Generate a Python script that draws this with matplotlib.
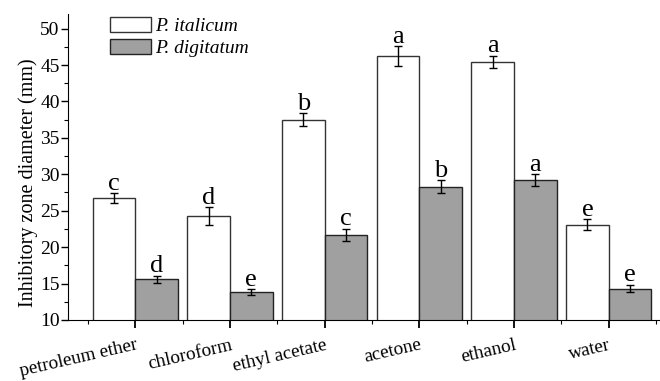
import matplotlib
matplotlib.use("Agg")
import matplotlib.pyplot as plt
import numpy as np
from matplotlib.ticker import MultipleLocator, FixedLocator

# data
solvents = ["petroleum ether", "chloroform", "ethyl acetate", "acetone", "ethanol", "water"]
italicum = [26.7, 24.3, 37.5, 46.2, 45.4, 23.1]
italicum_err = [0.7, 1.2, 0.85, 1.35, 0.85, 0.75]
italicum_sig = ["c", "d", "b", "a", "a", "e"]
digitatum = [15.6, 13.8, 21.7, 28.3, 29.2, 14.3]
digitatum_err = [0.5, 0.4, 0.8, 0.85, 0.8, 0.5]
digitatum_sig = ["d", "e", "c", "b", "a", "e"]

plt.rcParams["font.family"] = ["Liberation Serif", "DejaVu Serif"]

fig = plt.figure(figsize=(6.6, 3.81), dpi=100)
ax = fig.add_axes([68 / 660, 61 / 381, 591 / 660, 306 / 381])

x = np.arange(len(solvents))
w = 0.45
ekw = dict(elinewidth=1.0, capsize=3, capthick=1.0, ecolor="black")
ax.bar(x - w / 2, italicum, w, color="white", edgecolor="#333333", linewidth=1.0,
       yerr=italicum_err, error_kw=ekw, label="P. italicum", zorder=2)
ax.bar(x + w / 2, digitatum, w, color="#a0a0a0", edgecolor="#222222", linewidth=1.0,
       yerr=digitatum_err, error_kw=ekw, label="P. digitatum", zorder=2)

for xs, vals, errs, sigs in [(x - w / 2, italicum, italicum_err, italicum_sig),
                             (x + w / 2, digitatum, digitatum_err, digitatum_sig)]:
    for xi, v, e, s in zip(xs, vals, errs, sigs):
        ax.text(xi, v + e - 0.2, s, ha="center", va="bottom", fontsize=19, zorder=3)

ax.set_xlim(-0.71, 5.53)
ax.set_ylim(10, 52)
ax.spines["top"].set_visible(False)
ax.spines["right"].set_visible(False)
ax.set_yticks([10, 15, 20, 25, 30, 35, 40, 45, 50])
ax.yaxis.set_minor_locator(MultipleLocator(2.5))
ax.xaxis.set_major_locator(FixedLocator(x))
ax.xaxis.set_minor_locator(FixedLocator(np.arange(-0.5, 6, 1.0)))
ax.set_xticklabels(solvents, rotation=13, ha="right", rotation_mode="anchor", fontsize=13.8)
ax.tick_params(axis="x", which="major", direction="out", length=6, width=1.3, pad=6)
ax.tick_params(axis="x", which="minor", direction="out", length=3, width=0.8)
ax.tick_params(axis="y", which="major", direction="out", length=5, width=1.0, labelsize=14, pad=1)
ax.tick_params(axis="y", which="minor", direction="out", length=3, width=0.8)
ax.set_ylabel("Inhibitory zone diameter (mm)", fontsize=14.5)
ax.yaxis.set_label_coords(-0.05, 0.45)

leg = ax.legend(loc="upper left", bbox_to_anchor=(0.071, 0.99), frameon=False, fontsize=14,
                handlelength=2.1, handleheight=0.8, handletextpad=0.2, labelspacing=0.2,
                borderpad=0.0, borderaxespad=0.0)
for t in leg.get_texts():
    t.set_fontstyle("italic")

fig.savefig("out.png", dpi=100)
